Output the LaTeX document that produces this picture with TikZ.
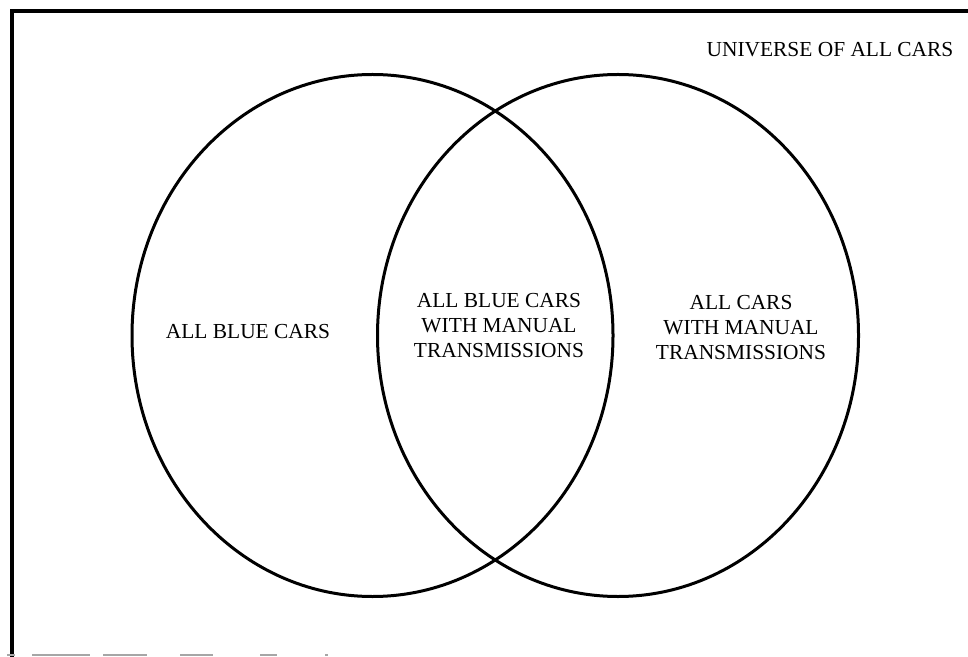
\documentclass[tikz,border=0pt]{standalone}
\usepackage{fontspec}
\setmainfont{Liberation Serif}
\begin{document}
\begin{tikzpicture}[x=0.5pt, y=-0.5pt,
  frameline/.style={line width=2pt, line cap=rect},
  setline/.style={line width=1.5pt},
  caption/.style={font=\fontsize{10.7}{12.5}\selectfont, inner sep=0pt, align=center}]
  \useasboundingbox (0,0) rectangle (968,657);

  % frame of the universe (left and top edges), faint bottom edge
  \coordinate (fb) at (12,655);
  \coordinate (ft) at (12,11.5);
  \coordinate (fr) at (968,11.5);
  \draw[frameline] (fb) -- (ft) -- (fr);
  \coordinate (bl) at (7,655);
  \coordinate (br) at (333,655);
  \draw[gray!70, line width=0.8pt,
        dash pattern=on 4pt off 8.5pt on 29pt off 6.5pt on 22pt off 16.5pt on 16.5pt off 23.5pt on 8.5pt off 24pt on 1.5pt off 5pt]
        (bl) -- (br);

  % the two sets
  \draw[setline] (372.5,335.5) ellipse [x radius=120.25pt, y radius=130.5pt];
  \draw[setline] (618,335.5) ellipse [x radius=120.25pt, y radius=130.5pt];

  % labels
  \node[caption, anchor=base] (univ) at (830,57) {UNIVERSE OF ALL CARS};
  \node[caption, anchor=base] (blue) at (248,338) {ALL BLUE CARS};
  \node[caption] (both) at (499,325.5) {ALL BLUE CARS\\WITH MANUAL\\TRANSMISSIONS};
  \node[caption] (manual) at (741,328) {ALL CARS\\WITH MANUAL\\TRANSMISSIONS};
\end{tikzpicture}
\end{document}
